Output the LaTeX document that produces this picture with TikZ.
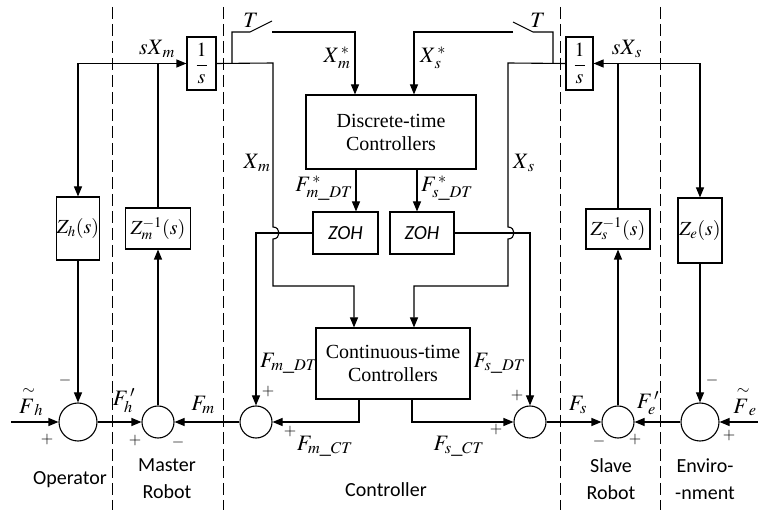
\documentclass[tikz,border=0pt]{standalone}
\usepackage{mathptmx}
\usepackage{fontspec}
\setmainfont{Liberation Serif}
\setsansfont{Carlito}
\usetikzlibrary{arrows.meta}
\begin{document}
\begin{tikzpicture}[x=1pt,y=-1pt, line width=1.1pt,
  blk/.style={draw, fill=white, inner sep=0pt, align=center, font=\fontsize{20}{23}\selectfont},
  sumc/.style={draw, circle, inner sep=0pt, fill=white},
  arr/.style={-{Triangle[length=10pt,width=8pt]}},
  lbl/.style={inner sep=0pt, font=\fontsize{22}{24}\selectfont},
  sgn/.style={inner sep=0pt, font=\fontsize{16}{18}\selectfont},
  dsh/.style={dash pattern=on 12pt off 5pt, line width=1pt},
  reg/.style={font=\sffamily\fontsize{20}{27}\selectfont, align=center, inner sep=0pt}]
\useasboundingbox (0,0) rectangle (758,510);
% region separators
\draw[dsh] (112,7) -- (112,510);
\draw[dsh] (223,7) -- (223,510);
\draw[dsh] (560,7) -- (560,510);
\draw[dsh] (660,7) -- (660,510);
% blocks
\node[blk, minimum width=29pt, minimum height=53pt] (int1) at (201.5,63.5) {$\displaystyle\frac{1}{s}$};
\node[blk, minimum width=27pt, minimum height=53pt] (int2) at (579.5,63.5) {$\displaystyle\frac{1}{s}$};
\node[blk, minimum width=170pt, minimum height=74pt] (disc) at (391,132) {Discrete-time\\Controllers};
\node[blk, minimum width=65pt, minimum height=42pt, font=\sffamily\itshape\fontsize{20}{23}\selectfont] (zohm) at (345.5,233) {ZOH};
\node[blk, minimum width=64pt, minimum height=42pt, font=\sffamily\itshape\fontsize{20}{23}\selectfont] (zohs) at (422,233) {ZOH};
\node[blk, minimum width=154pt, minimum height=71pt] (cont) at (393,363.5) {Continuous-time\\Controllers};
\node[blk, minimum width=43pt, minimum height=63pt] (zh) at (78,228.5) {$Z_h(s)$};
\node[blk, minimum width=65pt, minimum height=41pt] (zm) at (158,228.5) {$Z_m^{-1}(s)$};
\node[blk, minimum width=64pt, minimum height=40pt] (zs) at (618,229) {$Z_s^{-1}(s)$};
\node[blk, minimum width=44pt, minimum height=65pt] (ze) at (700,230.5) {$Z_e(s)$};
% summing junctions
\node[sumc, minimum size=38pt] (c1) at (78,422) {};
\node[sumc, minimum size=32pt] (c2) at (158,422) {};
\node[sumc, minimum size=32pt] (c3) at (256,422) {};
\node[sumc, minimum size=32pt] (c4) at (530,422) {};
\node[sumc, minimum size=32pt] (c5) at (618,422) {};
\node[sumc, minimum size=38pt] (c6) at (700,422) {};
% free ends and corners
\coordinate (inh) at (11,422);
\coordinate (ine) at (758,422);
\coordinate (swm) at (232,63);
\coordinate (sws) at (553,63);
\coordinate (swmA) at (232,32);
\coordinate (swmB) at (250,32);
\coordinate (swmC) at (272,21);
\coordinate (swmD) at (272,32);
\coordinate (swsA) at (553,32);
\coordinate (swsB) at (533,32);
\coordinate (swsC) at (513,22);
\coordinate (swsD) at (513,32);
\coordinate (tm) at (355,32);
\coordinate (ts) at (414,32);
\coordinate (xm) at (273,63);
\coordinate (xs) at (508,63);
\coordinate (xmb) at (273,286);
\coordinate (xsb) at (508,286);
\coordinate (cm) at (354,286);
\coordinate (cs) at (414,286);
\coordinate (am) at (356,169);
\coordinate (as) at (417,169);
\coordinate (om) at (359,399);
\coordinate (os) at (412,399);
% master side feedback
\draw[arr] (zm.north) |- (int1.west);
\draw[arr] (zm.north |- int1.west) -| (zh.north);
\draw[arr] (zs.north) |- (int2.east);
\draw[arr] (zs.north |- int2.east) -| (ze.north);
% position signals with hops
\draw[arr] (int1.east) -- (xm) -- (273,227) .. controls (281,227) and (281,239) .. (273,239) -- (xmb) -- (cm) -- (cm |- cont.north);
\draw[arr] (int2.west) -- (xs) -- (508,227) .. controls (516,227) and (516,239) .. (508,239) -- (xsb) -- (cs) -- (cs |- cont.north);
% samplers
\draw (swm) -- (swmA) -- (swmB) -- (swmC);
\draw[arr] (swmD) -- (tm) -- (tm |- disc.north);
\draw (sws) -- (swsA) -- (swsB) -- (swsC);
\draw[arr] (swsD) -- (ts) -- (ts |- disc.north);
% discrete outputs
\draw[arr] (am) -- (am |- zohm.north);
\draw[arr] (as) -- (as |- zohs.north);
\draw[arr] (zohm.west) -| (c3.north);
\draw[arr] (zohs.east) -| (c4.north);
% continuous outputs
\draw[arr] (om) |- (c3.east);
\draw[arr] (os) |- (c4.west);
% force loop
\draw[arr] (inh) -- (c1.west);
\draw[arr] (zh.south) -- (c1.north);
\draw[arr] (c1.east) -- (c2.west);
\draw[arr] (c3.west) -- (c2.east);
\draw[arr] (c2.north) -- (zm.south);
\draw[arr] (ine) -- (c6.east);
\draw[arr] (ze.south) -- (c6.north);
\draw[arr] (c6.west) -- (c5.east);
\draw[arr] (c4.east) -- (c5.west);
\draw[arr] (c5.north) -- (zs.south);
% labels
\node[lbl] (lsxm) at (157,49) {$sX_{\,m}$};
\node[lbl] (lsxs) at (627,49) {$sX_{\,s}$};
\node[lbl] (lt1) at (251,20) {$T$};
\node[lbl] (lt2) at (538,20) {$T$};
\node[lbl] (lxms) at (337,58) {$X_{\,m}^{\,*}$};
\node[lbl] (lxss) at (433,58) {$X_{\,s}^{\,*}$};
\node[lbl] (lxm) at (257,163) {$X_{\,m}$};
\node[lbl] (lxs) at (524,163) {$X_{\,s}$};
\node[lbl] (lfmds) at (324,188) {$F_{m\_DT}^{\,*}$};
\node[lbl] (lfsds) at (447,188) {$F_{s\_DT}^{\,*}$};
\node[lbl, anchor=east] (lfmd) at (318,363) {$F_{m\_DT}$};
\node[lbl, anchor=east] (lfsd) at (526,363) {$F_{s\_DT}$};
\node[lbl] (lfmc) at (325,446) {$F_{m\_CT}$};
\node[lbl] (lfsc) at (459,446) {$F_{s\_CT}$};
\node[lbl] (lfh) at (31,401) {$\stackrel{\sim}{F}_{h}$};
\node[lbl] (lfhp) at (124,401) {$F_{h}^{\,\prime}$};
\node[lbl] (lfm) at (203,405) {$F_{m}$};
\node[lbl] (lfs) at (578,405) {$F_{s}$};
\node[lbl] (lfep) at (648,403) {$F_{e}^{\,\prime}$};
\node[lbl] (lfe) at (745,401) {$\stackrel{\sim}{F}_{e}$};
% signs
\node[sgn] at (47,440) {$+$};
\node[sgn] at (65,381) {$-$};
\node[sgn] at (135,441) {$+$};
\node[sgn] at (178,443) {$-$};
\node[sgn] at (268,392) {$+$};
\node[sgn] at (290,432) {$+$};
\node[sgn] at (496,430) {$+$};
\node[sgn] at (517,396) {$+$};
\node[sgn] at (599,442) {$-$};
\node[sgn] at (635,440) {$+$};
\node[sgn] at (712,381) {$-$};
\node[sgn] at (729,436) {$+$};
% regions
\node[reg] (rop) at (70,480) {Operator};
\node[reg] (rma) at (167,479) {Master\\Robot};
\node[reg] (rco) at (386,490) {Controller};
\node[reg] (rsl) at (611,479) {Slave\\Robot};
\node[reg] (ren) at (705,479) {Enviro-\\-nment};
\end{tikzpicture}
\end{document}
